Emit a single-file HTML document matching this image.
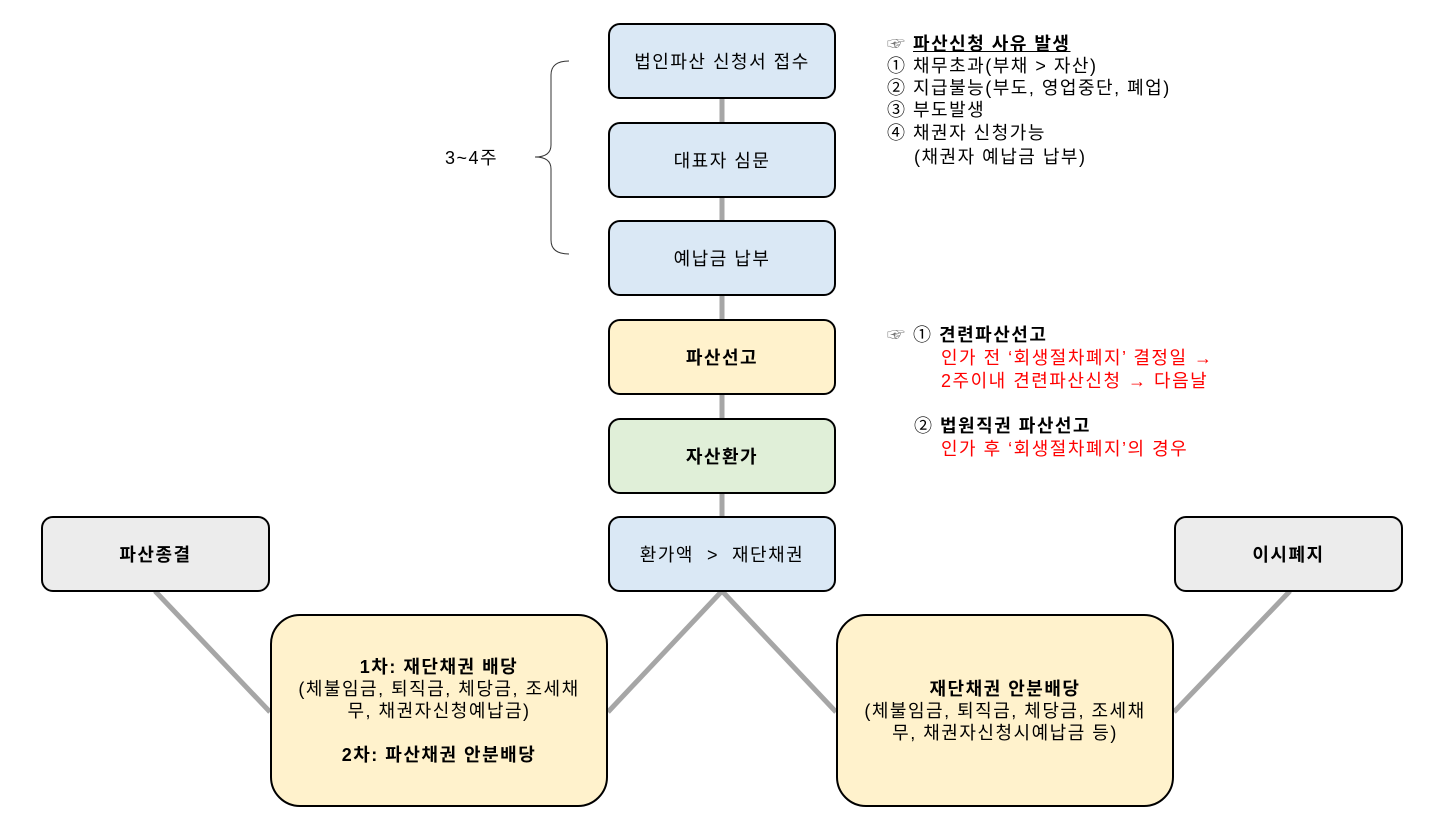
<!DOCTYPE html>
<html><head><meta charset="utf-8"><style>
body{margin:0;width:1449px;height:829px;background:#fff;position:relative;font-family:"Liberation Sans","Noto Sans CJK KR",sans-serif;overflow:hidden;letter-spacing:1.5px}
.b{position:absolute;box-sizing:border-box;border:2px solid #000;border-radius:12px;display:flex;align-items:center;justify-content:center;text-align:center;font-size:18px;color:#000}
.t{position:absolute;font-size:18px;white-space:nowrap;line-height:22px}
.bold{font-weight:bold}
.r{color:#f00}
</style></head><body>
<svg width="1449" height="829" style="position:absolute;left:0;top:0">
<g stroke="#a6a6a6" stroke-width="5" fill="none">
<line x1="722" y1="98" x2="722" y2="122"/>
<line x1="722" y1="197" x2="722" y2="220"/>
<line x1="722" y1="295" x2="722" y2="319"/>
<line x1="722" y1="394" x2="722" y2="418"/>
<line x1="722" y1="493" x2="722" y2="516"/>
<line x1="155" y1="591" x2="270" y2="712"/>
<line x1="608" y1="712" x2="722" y2="591"/>
<line x1="722" y1="591" x2="836" y2="712"/>
<line x1="1174" y1="712" x2="1290" y2="591"/>
</g>
<path d="M569,61 Q551,61 551,75 L551,145 Q551,157 535,157 Q551,157 551,169 L551,240 Q551,254 569,254" stroke="#333" stroke-width="1" fill="none"/>
</svg>
<div class="t" style="left:445px;top:147px">3~4주</div>
<div class="b" style="left:608px;top:23px;width:228px;height:76px;background:#dae8f5">법인파산 신청서 접수</div>
<div class="b" style="left:608px;top:122px;width:228px;height:76px;background:#dae8f5">대표자 심문</div>
<div class="b" style="left:608px;top:220px;width:228px;height:76px;background:#dae8f5">예납금 납부</div>
<div class="b bold" style="left:608px;top:319px;width:228px;height:76px;background:#fff2cc">파산선고</div>
<div class="b bold" style="left:608px;top:418px;width:228px;height:76px;background:#e0efd8">자산환가</div>
<div class="b" style="left:608px;top:516px;width:228px;height:76px;background:#dae8f5">환가액 &nbsp;&gt;&nbsp; 재단채권</div>
<div class="b bold" style="left:41px;top:516px;width:229px;height:76px;background:#ececec">파산종결</div>
<div class="b bold" style="left:1174px;top:516px;width:229px;height:76px;background:#ececec">이시폐지</div>
<div class="b" style="left:270px;top:614px;width:338px;height:193px;background:#fff2cc;border-radius:30px;line-height:22px"><div><b>1차: 재단채권 배당</b><br>(체불임금, 퇴직금, 체당금, 조세채<br>무, 채권자신청예납금)<br><br><b>2차: 파산채권 안분배당</b></div></div>
<div class="b" style="left:836px;top:614px;width:338px;height:193px;background:#fff2cc;border-radius:30px;line-height:22px"><div><b>재단채권 안분배당</b><br>(체불임금, 퇴직금, 체당금, 조세채<br>무, 채권자신청시예납금 등)</div></div>
<div class="t" style="left:887px;top:33px"><span style="color:#777">☞</span> <b style="text-decoration:underline">파산신청 사유 발생</b></div>
<div class="t" style="left:887px;top:55px">① 채무초과(부채 &gt; 자산)</div>
<div class="t" style="left:887px;top:77px">② 지급불능(부도, 영업중단, 폐업)</div>
<div class="t" style="left:887px;top:99px">③ 부도발생</div>
<div class="t" style="left:887px;top:122px">④ 채권자 신청가능</div>
<div class="t" style="left:914px;top:146px">(채권자 예납금 납부)</div>
<div class="t" style="left:887px;top:324px"><span style="color:#777">☞</span> ① <b>견련파산선고</b></div>
<div class="t r" style="left:941px;top:347px">인가 전 ‘회생절차폐지’ 결정일 →</div>
<div class="t r" style="left:941px;top:370px">2주이내 견련파산신청 → 다음날</div>
<div class="t" style="left:914px;top:415px">② <b>법원직권 파산선고</b></div>
<div class="t r" style="left:941px;top:438px">인가 후 ‘회생절차폐지’의 경우</div>
</body></html>
